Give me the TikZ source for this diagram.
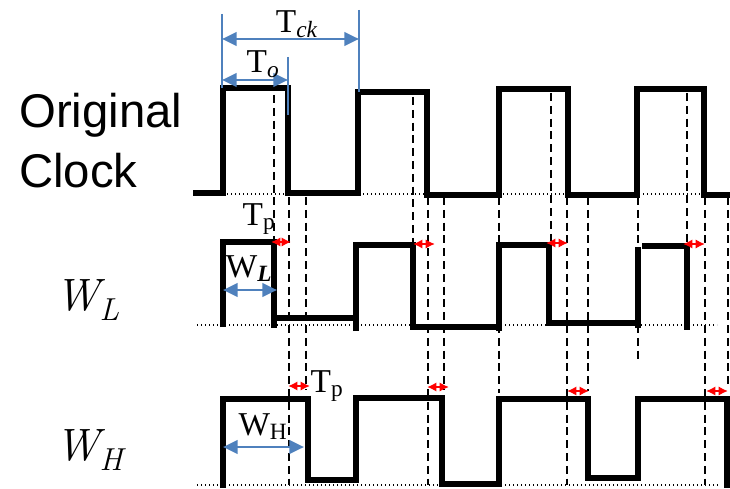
\documentclass[tikz,border=0pt]{standalone}
\usepackage{fontspec}
\newfontfamily\ArialLike{Liberation Sans}
\newfontfamily\SerifLike{Liberation Serif}
\definecolor{DimBlue}{RGB}{79,129,189}
\definecolor{SkewRed}{RGB}{255,0,0}
\usetikzlibrary{arrows.meta}

\begin{document}
\begin{tikzpicture}[x=0.75pt,y=-0.75pt,
    sig/.style={line width=3.9pt},
    guide/.style={line width=1.4pt,dash pattern=on 6pt off 3.6pt},
    base/.style={line width=1.1pt,dash pattern=on 1.1pt off 1.9pt},
    dim/.style={DimBlue,line width=2.2pt,
      {Triangle[length=11pt,width=10pt]}-{Triangle[length=11pt,width=10pt]}},
    dimtick/.style={DimBlue,line width=1pt},
    skew/.style={SkewRed,line width=1.5pt,
      {Latex[length=7pt,width=7pt]}-{Latex[length=7pt,width=7pt]}},
    lbl/.style={font=\SerifLike\fontsize{25}{28}\selectfont,inner sep=0pt},
    rowname/.style={font=\ArialLike\fontsize{35.5}{40}\selectfont,inner sep=0pt,anchor=base west},
    signame/.style={font=\itshape\fontsize{34}{40}\selectfont,inner sep=0pt,anchor=base west}]
  \useasboundingbox (0,0) rectangle (730,488);

  %% Row names
  \node[rowname] (orig) at (19,128) {Original};
  \node[rowname] (clk)  at (19,187) {Clock};
  \node[signame] (wl)   at (55,310) {W\textsubscript{L}};
  \node[signame] (wh)   at (55,460) {W\textsubscript{H}};

  %% Dotted reference levels
  \draw[base] (223,194) -- (704,194);
  \draw[base] (197,325) -- (717,325);
  \draw[base] (197,485) -- (720,485);

  %% Dashed guides: W_L falling edges (inside clock pulses)
  \draw[guide] (274,95) -- (274,241);
  \draw[guide] (413,97) -- (413,243);
  \draw[guide] (551,93) -- (551,241);
  \draw[guide] (687,93) -- (687,243);
  %% Dashed guides: clock falling edges, down to W_H level
  \draw[guide] (289,197) -- (289,485);
  \draw[guide] (428,197) -- (428,485);
  \draw[guide] (567,197) -- (567,485);
  \draw[guide] (705,197) -- (705,485);
  %% Dashed guides: W_H falling edges
  \draw[guide] (306,197) -- (306,390);
  \draw[guide] (444,197) -- (444,390);
  \draw[guide] (588,197) -- (588,391);
  \draw[guide] (728,197) -- (728,388);
  %% Dashed guides: clock rising edges
  \draw[guide] (499,197) -- (499,393);
  \draw[guide] (638,197) -- (638,362);

  %% Original clock
  \draw[sig] (193,193) -- (223,193) -- (223,88) -- (288,88) -- (288,193)
       -- (358,193) -- (358,92) -- (427,92) -- (427,195) -- (499,195)
       -- (499,89) -- (568,89) -- (568,195) -- (637,195) -- (637,89)
       -- (704,89) -- (704,195) -- (730,195);

  %% W_L
  \draw[sig] (223,327) -- (223,242) -- (274,242) -- (274,328);
  \draw[sig] (274,318) -- (356,318);
  \draw[sig] (356,331) -- (356,245) -- (413,245) -- (413,327) -- (499,327);
  \draw[sig] (499,331) -- (499,245) -- (549,245) -- (549,323) -- (636,323);
  \draw[sig] (638,328) -- (638,247);
  \draw[sig] (642,246) -- (687,246) -- (687,330);

  %% W_H
  \draw[sig] (223,488) -- (223,399) -- (308,399) -- (308,480) -- (356,480)
       -- (356,398) -- (442,398) -- (442,484) -- (499,484) -- (499,399)
       -- (588,399) -- (588,478) -- (638,478) -- (638,399) -- (727,399)
       -- (727,488);

  %% T_ck and T_o markers
  \draw[dimtick] (222,14) -- (222,88);
  \draw[dimtick] (359,10) -- (359,92);
  \draw[dimtick] (288,57) -- (288,115);
  \coordinate (ckL) at (222,39);
  \coordinate (ckR) at (359,39);
  \coordinate (toL) at (222,80);
  \coordinate (toR) at (288,80);
  \draw[dim] (ckL) -- (ckR);
  \draw[dim] (toL) -- (toR);
  \node[lbl,anchor=base] (tck) at (297,33) {T\textsubscript{\textit{ck}}};
  \node[lbl,anchor=base] (to)  at (263,73) {T\textsubscript{\textit{o}}};

  %% Pulse widths
  \coordinate (wlL) at (223,290);
  \coordinate (wlR) at (277,290);
  \coordinate (whL) at (223,447);
  \coordinate (whR) at (304,447);
  \draw[dim] (wlL) -- (wlR);
  \draw[dim] (whL) -- (whR);
  \node[lbl,anchor=base] (wlw) at (249,277) {W\textsubscript{\textit{\bfseries L}}};
  \node[lbl,anchor=base] (whw) at (263,435) {W\textsubscript{H}};

  %% T_p skews, W_L row
  \coordinate (pl1a) at (271,242); \coordinate (pl1b) at (291,242);
  \coordinate (pl2a) at (413,244); \coordinate (pl2b) at (435,244);
  \coordinate (pl3a) at (546,243); \coordinate (pl3b) at (568,243);
  \coordinate (pl4a) at (683,244); \coordinate (pl4b) at (705,244);
  \draw[skew] (pl1a) -- (pl1b);
  \draw[skew] (pl2a) -- (pl2b);
  \draw[skew] (pl3a) -- (pl3b);
  \draw[skew] (pl4a) -- (pl4b);
  \node[lbl,anchor=base] (tpl) at (259,225) {T\textsubscript{p}};

  %% T_p skews, W_H row
  \coordinate (ph1a) at (288,386); \coordinate (ph1b) at (310,386);
  \coordinate (ph2a) at (427,387); \coordinate (ph2b) at (449,387);
  \coordinate (ph3a) at (567,391); \coordinate (ph3b) at (589,391);
  \coordinate (ph4a) at (706,391); \coordinate (ph4b) at (728,391);
  \draw[skew] (ph1a) -- (ph1b);
  \draw[skew] (ph2a) -- (ph2b);
  \draw[skew] (ph3a) -- (ph3b);
  \draw[skew] (ph4a) -- (ph4b);
  \node[lbl,anchor=base] (tph) at (327,392) {T\textsubscript{p}};
\end{tikzpicture}
\end{document}
